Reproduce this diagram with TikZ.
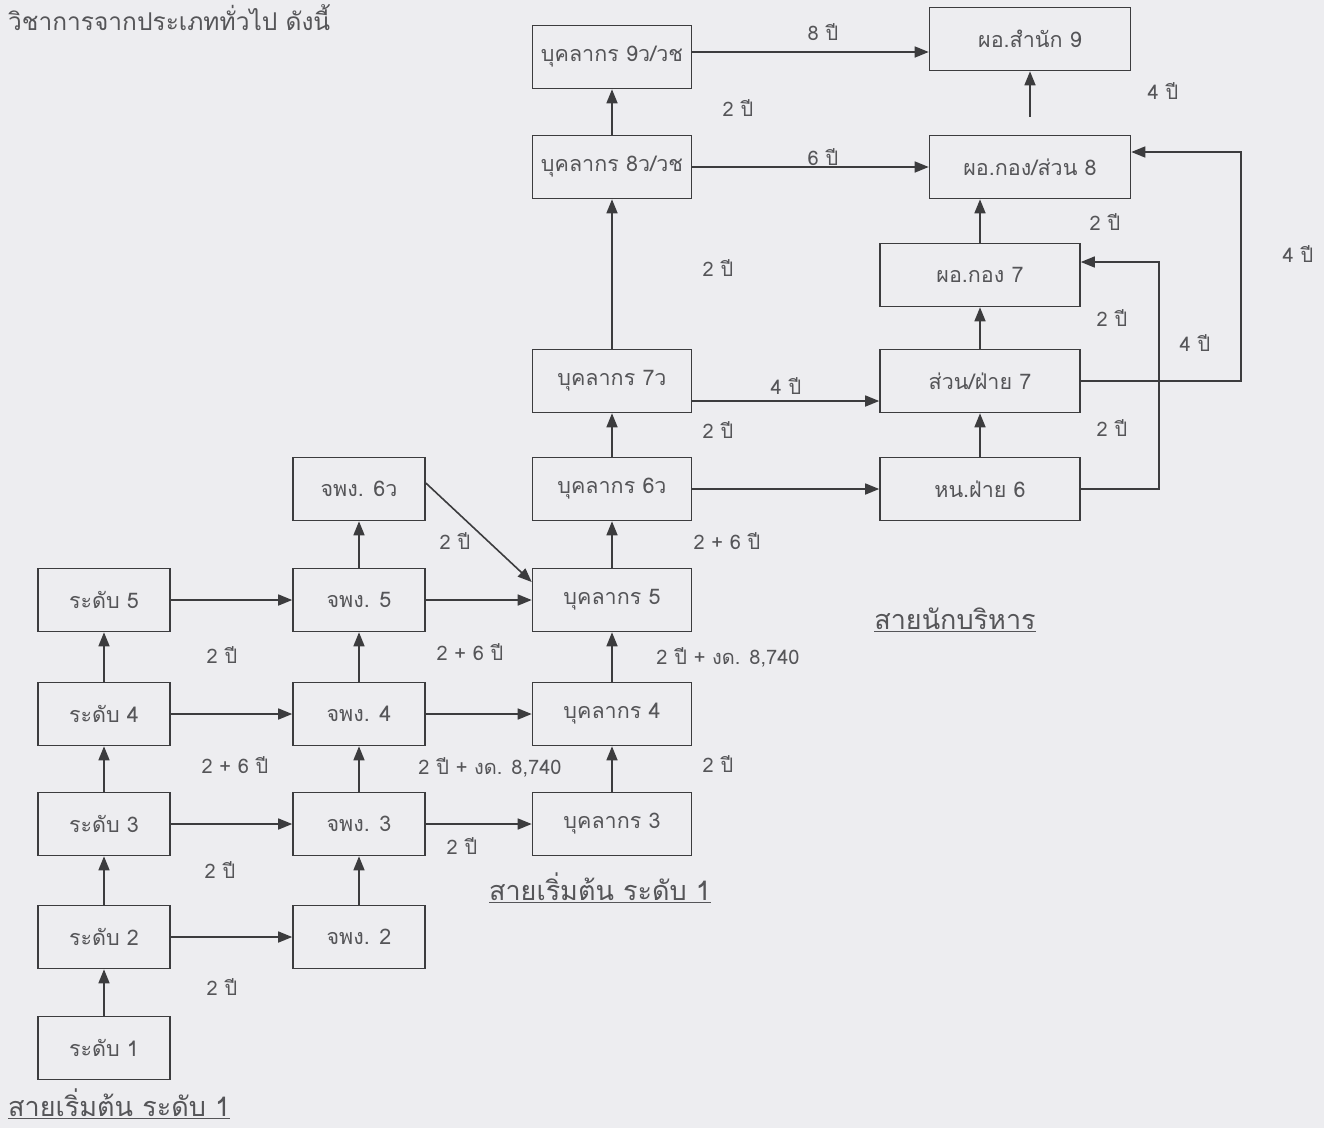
\documentclass[tikz,border=0pt]{standalone}
\usepackage{fontspec}
\setmainfont[Script=Thai]{Loma}
\usetikzlibrary{arrows.meta,calc}
\definecolor{bg}{RGB}{237,237,240}
\definecolor{ink}{RGB}{60,60,62}
\definecolor{txt}{RGB}{85,85,88}
\begin{document}
\begin{tikzpicture}[x=1pt,y=-1pt,
  box/.style={draw=ink,line width=1.6pt,text=txt,font=\fontsize{21.5}{25}\selectfont,minimum height=63pt,inner sep=0pt},
  colA/.style={box,minimum width=132pt},
  colB/.style={box,minimum width=159pt},
  colC/.style={box,minimum width=201pt},
  colD/.style={box,minimum width=200pt},
  arr/.style={draw=ink,line width=1.6pt,-{Triangle[length=14pt,width=11pt]}},
  lbl/.style={text=txt,font=\fontsize{20}{23}\selectfont,inner sep=0pt},
  head/.style={text=txt,font=\fontsize{27}{30}\selectfont,inner sep=0pt},
  ttl/.style={text=txt,font=\fontsize{24.5}{28}\selectfont,inner sep=0pt}]
\fill[bg] (0,0) rectangle (1324,1128);
\useasboundingbox (0,0) rectangle (1324,1128);

% column 1
\node[colA] (r5) at (104,600) {ระดับ 5};
\node[colA] (r4) at (104,714) {ระดับ 4};
\node[colA] (r3) at (104,824) {ระดับ 3};
\node[colA] (r2) at (104,937) {ระดับ 2};
\node[colA] (r1) at (104,1048) {ระดับ 1};
% column 2
\node[colA] (j6) at (359,489) {จพง. 6ว};
\node[colA] (j5) at (359,600) {จพง. 5};
\node[colA] (j4) at (359,714) {จพง. 4};
\node[colA] (j3) at (359,824) {จพง. 3};
\node[colA] (j2) at (359,937) {จพง. 2};
% column 3
\node[colB] (b9) at (612,57) {บุคลากร 9ว/วช};
\node[colB] (b8) at (612,167) {บุคลากร 8ว/วช};
\node[colB] (b7) at (612,381) {บุคลากร 7ว};
\node[colB] (b6) at (612,489) {บุคลากร 6ว};
\node[colB] (b5) at (612,600) {บุคลากร 5};
\node[colB] (b4) at (612,714) {บุคลากร 4};
\node[colB] (b3) at (612,824) {บุคลากร 3};
% column 4
\node[colC] (d9) at (1030,39) {ผอ.สำนัก 9};
\node[colC] (d8) at (1030,167) {ผอ.กอง/ส่วน 8};
\node[colD] (g7) at (980,275) {ผอ.กอง 7};
\node[colD] (s7) at (980,381) {ส่วน/ฝ่าย 7};
\node[colD] (h6) at (980,489) {หน.ฝ่าย 6};

% vertical arrows
\draw[arr] (r1) -- (r2);
\draw[arr] (r2) -- (r3);
\draw[arr] (r3) -- (r4);
\draw[arr] (r4) -- (r5);
\draw[arr] (j2) -- (j3);
\draw[arr] (j3) -- (j4);
\draw[arr] (j4) -- (j5);
\draw[arr] (j5) -- (j6);
\draw[arr] (b3) -- (b4);
\draw[arr] (b4) -- (b5);
\draw[arr] (b5) -- (b6);
\draw[arr] (b6) -- (b7);
\draw[arr] (b7) -- (b8);
\draw[arr] (b8) -- (b9);
\draw[arr] (h6) -- (s7);
\draw[arr] (s7) -- (g7);
\draw[arr] (g7.north) -- (g7.north |- d8.south);
\draw[arr,shorten <=18pt] (d8) -- (d9);

% horizontal arrows
\draw[arr] (r2) -- (j2);
\draw[arr] (r3) -- (j3);
\draw[arr] (r4) -- (j4);
\draw[arr] (r5) -- (j5);
\draw[arr] (j3) -- (b3);
\draw[arr] (j4) -- (b4);
\draw[arr] (j5) -- (b5);
\draw[arr] ([yshift=6pt]j6.east) -- ([yshift=18pt]b5.west);
\draw[arr] (b6) -- (h6);
\draw[arr] ([yshift=-20pt]b7.east) -- ([yshift=-20pt]b7.east -| s7.west);
\draw[arr] (b8) -- (d8);
\draw[arr] ([yshift=5pt]b9.east) -- ([yshift=5pt]b9.east -| d9.west);
\draw[arr] (h6.east) -- ++(78,0) |- ([yshift=13pt]g7.east);
\draw[arr] (s7.east) -- ++(160,0) |- ([yshift=15pt]d8.east);

% labels
\node[lbl] (l1) at (222,987) {2 ปี};
\node[lbl] (l2) at (220,870) {2 ปี};
\node[lbl] (l3) at (235,765) {2 + 6 ปี};
\node[lbl] (l4) at (222,655) {2 ปี};
\node[lbl] (l5) at (470,652) {2 + 6 ปี};
\node[lbl] (l6) at (490,767) {2 ปี + งด. 8,740};
\node[lbl] (l7) at (455,541) {2 ปี};
\node[lbl] (l8) at (462,846) {2 ปี};
\node[lbl] (l9) at (718,764) {2 ปี};
\node[lbl] (l10) at (728,657) {2 ปี + งด. 8,740};
\node[lbl] (l11) at (727,541) {2 + 6 ปี};
\node[lbl] (l12) at (718,430) {2 ปี};
\node[lbl] (l13) at (718,268) {2 ปี};
\node[lbl] (l14) at (738,108) {2 ปี};
\node[lbl] (l15) at (823,32) {8 ปี};
\node[lbl] (l16) at (823,157) {6 ปี};
\node[lbl] (l17) at (786,386) {4 ปี};
\node[lbl] (l18) at (1163,91) {4 ปี};
\node[lbl] (l19) at (1105,222) {2 ปี};
\node[lbl] (l20) at (1112,318) {2 ปี};
\node[lbl] (l21) at (1195,343) {4 ปี};
\node[lbl] (l22) at (1112,428) {2 ปี};
\node[lbl] (l23) at (1298,254) {4 ปี};

% headings
\node[ttl,anchor=west] (title) at (8,18) {วิชาการจากประเภททั่วไป ดังนี้};
\node[head] (exec) at (955,620) {\underline{สายนักบริหาร}};
\node[head] (start2) at (600,888) {\underline{สายเริ่มต้น ระดับ 1}};
\node[head,anchor=south west] (start1) at (8,1119) {\underline{สายเริ่มต้น ระดับ 1}};
\end{tikzpicture}
\end{document}
